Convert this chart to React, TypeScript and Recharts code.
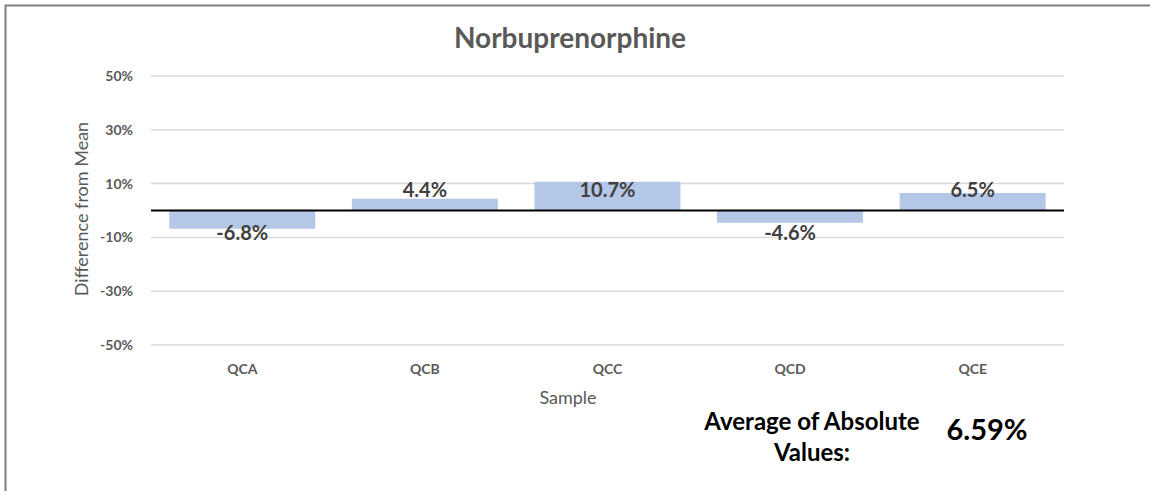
import { BarChart, Bar, XAxis, YAxis, CartesianGrid, ReferenceLine, LabelList } from 'recharts';

const samples = ['QCA', 'QCB', 'QCC', 'QCD', 'QCE'];
const diffFromMean = [-6.8, 4.4, 10.7, -4.6, 6.5];
const yTicks = [-50, -30, -10, 10, 30, 50];
const avgAbsolute = '6.59%';

const data = samples.map((s, i) => ({ sample: s, value: diffFromMean[i] }));

const FONT = 'Lato, Carlito, Calibri, sans-serif';

// Excel-style label: sits just above/below the zero line regardless of bar length
function ValueLabel(props: any) {
  const { x, y, width, height, value } = props;
  const top = Math.min(y, y + height);
  const bottom = Math.max(y, y + height);
  const base = value >= 0 ? bottom : top;
  const ty = value >= 0 ? base - 14 : base + 29;
  return (
    <text
      x={x + width / 2}
      y={ty}
      textAnchor="middle"
      fontFamily={FONT}
      fontWeight="bold"
      fontSize={20}
      fill="#404040"
    >
      {`${value.toFixed(1)}%`}
    </text>
  );
}

export default function App() {
  return (
    <div style={{ position: 'fixed', left: 0, top: 0, width: 1150, height: 491, overflow: 'hidden', background: '#fff' }}>
      <div style={{ position: 'absolute', left: 0, top: 0 }}>
        <BarChart
          width={1150}
          height={491}
          data={data}
          margin={{ top: 76, right: 86, left: 0, bottom: 116 }}
          barCategoryGap="10%"
        >
          <CartesianGrid vertical={false} stroke="#d9d9d9" strokeWidth={1.5} />
          <XAxis
            dataKey="sample"
            height={30}
            axisLine={false}
            tickLine={false}
            tickSize={0}
            tickMargin={19}
            tick={{ fontFamily: FONT, fontSize: 14, fontWeight: 'bold', fill: '#595959' }}
          />
          <YAxis
            width={151}
            domain={[-50, 50]}
            ticks={yTicks}
            axisLine={false}
            tickLine={false}
            tickSize={0}
            tickMargin={18}
            tickFormatter={(v) => `${v}%`}
            tick={{ fontFamily: FONT, fontSize: 14, fontWeight: 'bold', fill: '#595959' }}
          />
          <Bar dataKey="value" fill="#b4c7e7" isAnimationActive={false}>
            <LabelList dataKey="value" content={ValueLabel} />
          </Bar>
          <ReferenceLine y={0} stroke="#000" strokeWidth={2} />
        </BarChart>
      </div>
      <svg width={1150} height={491} style={{ position: 'absolute', left: 0, top: 0, pointerEvents: 'none' }}>
        {/* chart frame: only top and left edges fall inside the picture */}
        <path d="M5.5,491 L5.5,5.5 L1150,5.5" fill="none" stroke="#808080" strokeWidth={2} />
        <rect x={1144} y={8} width={6} height={483} fill="#fff" />
        <text x={570} y={48} textAnchor="middle" fontFamily={FONT} fontWeight="bold" fontSize={28} fill="#595959">
          Norbuprenorphine
        </text>
        <text
          x={88}
          y={209}
          textAnchor="middle"
          transform="rotate(-90, 88, 209)"
          fontFamily={FONT}
          fontSize={18}
          fill="#595959"
        >
          Difference from Mean
        </text>
        <text x={568} y={404} textAnchor="middle" fontFamily={FONT} fontSize={18} fill="#595959">
          Sample
        </text>
        <text x={812} y={430} textAnchor="middle" fontFamily={FONT} fontWeight="bold" fontSize={24} fill="#000">
          Average of Absolute
        </text>
        <text x={812} y={461} textAnchor="middle" fontFamily={FONT} fontWeight="bold" fontSize={24} fill="#000">
          Values:
        </text>
        <text x={987} y={440} textAnchor="middle" fontFamily={FONT} fontWeight="bold" fontSize={29} fill="#000">
          {avgAbsolute}
        </text>
      </svg>
    </div>
  );
}
